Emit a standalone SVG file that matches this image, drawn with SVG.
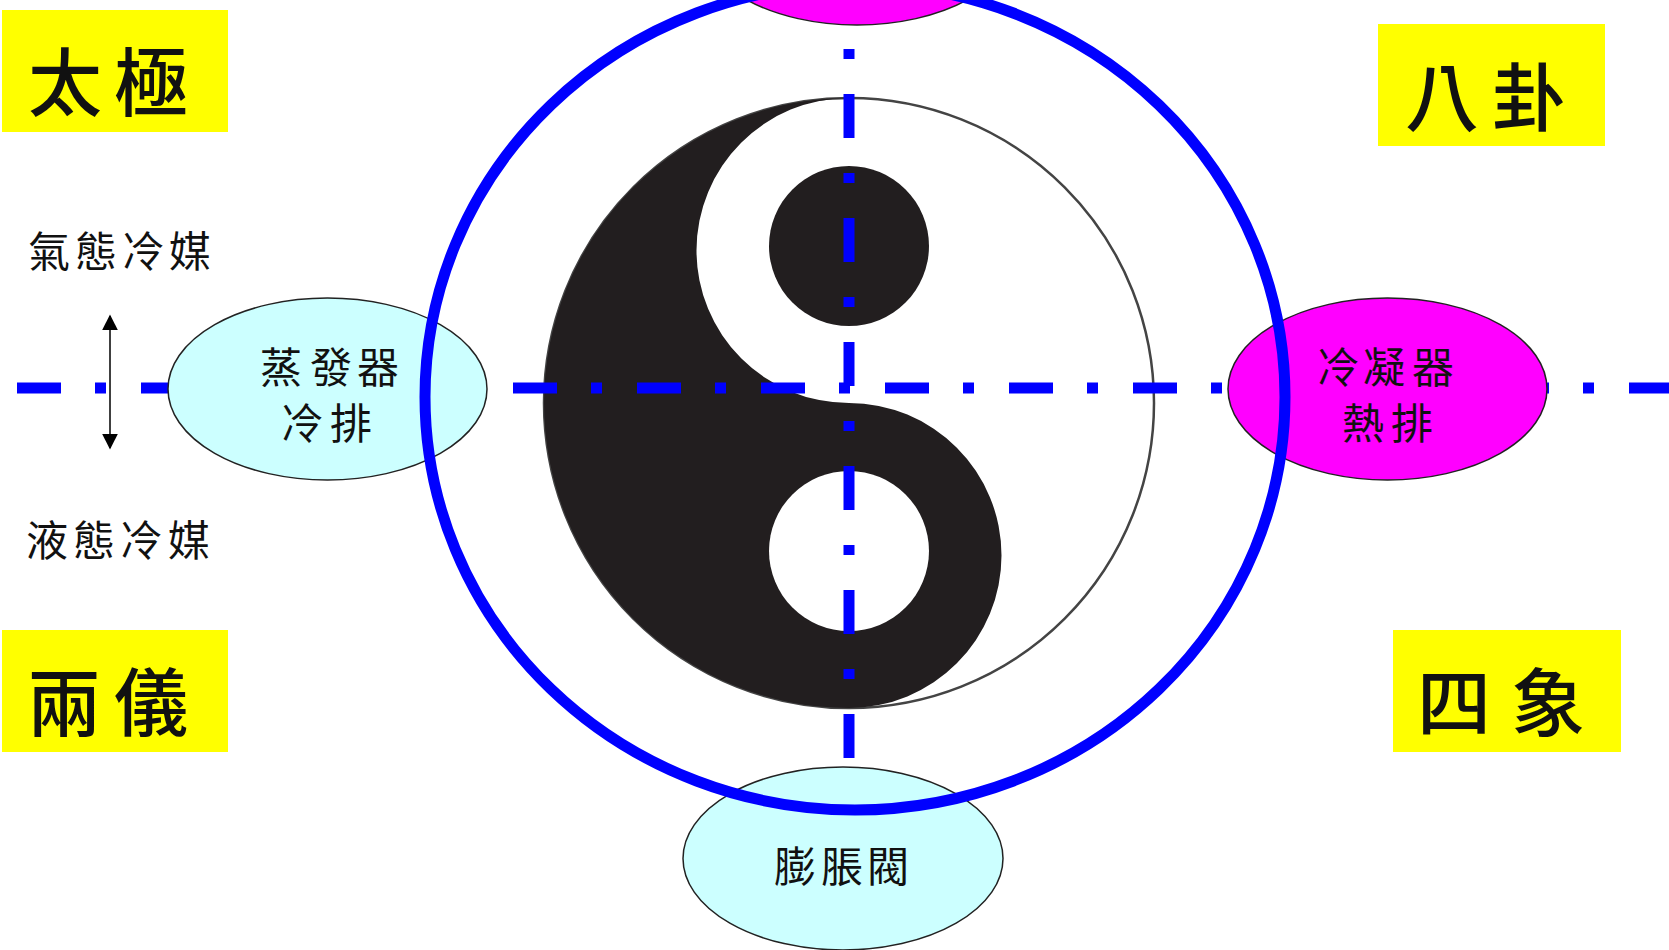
<svg xmlns="http://www.w3.org/2000/svg" width="1669" height="950" viewBox="0 0 1669 950">
<defs>
<style>
.cjk{font-family:"Noto Sans CJK TC","Noto Sans CJK SC",sans-serif;fill:#111;text-anchor:middle;dominant-baseline:central}
.big{font-size:74px;font-weight:500}
.mid{font-size:42px}
.box{fill:#FFFF00;stroke:none}
.cool{fill:#CCFFFF;stroke:#222;stroke-width:1.5}
.hot{fill:#FF00FF;stroke:#222;stroke-width:1.5}
.axis{stroke:#0000FF;stroke-width:11;fill:none;stroke-linecap:butt}
</style>
<marker id="ah" viewBox="0 0 10 10" refX="9" refY="5" markerWidth="16" markerHeight="16" markerUnits="userSpaceOnUse" orient="auto-start-reverse">
<path d="M0,0 L10,5 L0,10 Z" fill="#000"/>
</marker>
</defs>
<rect width="1669" height="950" fill="#fff"/>

<g id="yinyang">
<circle cx="849" cy="403" r="305" fill="#fff" stroke="#444" stroke-width="2.5"/>
<path d="M849,98 A305,305 0 0 0 849,708 A152.5,152.5 0 0 0 849,403 A152.5,152.5 0 0 1 849,98 Z" fill="#221e1f"/>
<circle cx="849" cy="246" r="80" fill="#221e1f"/>
<circle cx="849" cy="551" r="80" fill="#fff"/>
</g>

<g id="connectors">
<line class="axis" x1="17" y1="388" x2="1669" y2="388" stroke-dasharray="44 34 11 35"/>
<line class="axis" x1="849" y1="49" x2="849" y2="758" stroke-dasharray="10 35 44 35"/>
<line x1="110" y1="316" x2="110" y2="448" stroke="#000" stroke-width="1.5" marker-start="url(#ah)" marker-end="url(#ah)"/>
</g>

<g id="top-node">
<ellipse class="hot" cx="857" cy="-66" rx="160" ry="91"/>
</g>

<g id="evaporator">
<ellipse class="cool" cx="327.5" cy="389" rx="159.5" ry="91"/>
<text class="cjk mid" x="281 331 378" y="364">蒸發器</text>
<text class="cjk mid" x="302 351" y="420">冷排</text>
</g>

<g id="condenser">
<ellipse class="hot" cx="1387.5" cy="389" rx="159.5" ry="91"/>
<text class="cjk mid" x="1338 1384 1433" y="364">冷凝器</text>
<text class="cjk mid" x="1363 1412" y="420">熱排</text>
</g>

<g id="expansion-valve">
<ellipse class="cool" cx="843" cy="858.5" rx="160" ry="91.5"/>
<text class="cjk mid" x="795 842 888" y="863">膨脹閥</text>
</g>

<g id="cycle-circle">
<ellipse cx="855" cy="397" rx="430" ry="413" fill="none" stroke="#0000FF" stroke-width="11"/>
</g>

<g id="taiji">
<rect class="box" x="2" y="10" width="226" height="122"/>
<text class="cjk big" x="65 151" y="77">太極</text>
</g>

<g id="bagua">
<rect class="box" x="1378" y="24" width="227" height="122"/>
<text class="cjk big" x="1442 1529" y="92">八卦</text>
</g>

<g id="liangyi">
<rect class="box" x="2" y="630" width="226" height="122"/>
<text class="cjk big" x="64 151" y="697">兩儀</text>
</g>

<g id="sixiang">
<rect class="box" x="1393" y="630" width="228" height="122"/>
<text class="cjk big" x="1454 1548" y="697">四象</text>
</g>

<g id="gas-label">
<text class="cjk mid" x="49 96 143 190" y="248">氣態冷媒</text>
</g>

<g id="liquid-label">
<text class="cjk mid" x="47 94 141 189" y="537">液態冷媒</text>
</g>
</svg>
